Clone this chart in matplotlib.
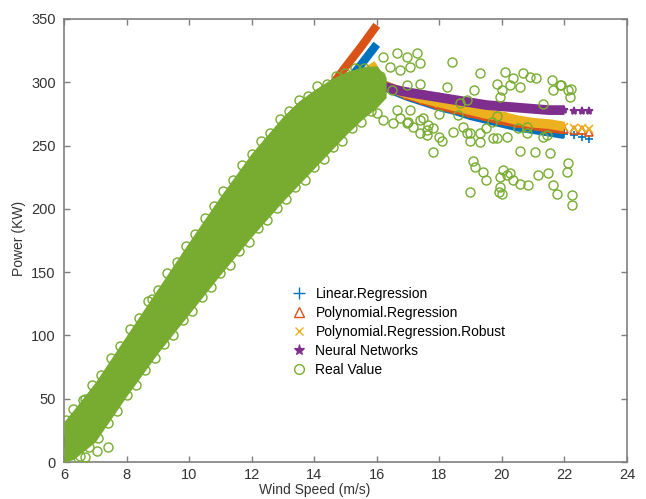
import matplotlib
matplotlib.use("Agg")
import matplotlib.pyplot as plt
from matplotlib.lines import Line2D

plt.rcParams['font.family'] = ['Liberation Sans', 'DejaVu Sans']

band_x = [6.0, 6.3, 7.0, 8.0, 9.0, 10.0, 11.0, 12.0, 13.0, 13.5, 14.0, 14.5, 15.0, 15.5, 16.0, 16.3]
band_hi = [32, 41, 63, 100, 137, 174, 210, 244, 273, 285, 294, 302, 308, 312, 313, 304]
band_lo = [0, 2, 16, 52, 86, 117, 148, 178, 206, 219, 232, 245, 258, 270, 280, 288]

# circles along the band edges
edge_hi_x = [6.05, 6.3, 6.6, 6.9, 7.2, 7.5, 7.8, 8.1, 8.4, 8.7, 9.0, 9.3, 9.6, 9.9, 10.2, 10.5,
             10.8, 11.1, 11.4, 11.7, 12.0, 12.3, 12.6, 12.9, 13.2, 13.5, 13.8, 14.1, 14.4, 14.7,
             15.0, 15.3, 15.6]
edge_hi_y = [33, 42, 49, 61, 69, 82, 92, 105, 114, 127, 136, 149, 158, 171, 180, 193,
             202, 214, 223, 235, 243, 254, 260, 271, 277, 286, 289, 297, 299, 305,
             307, 311, 311]
edge_lo_x = [6.2, 6.5, 6.8, 7.1, 7.4, 7.7, 8.0, 8.3, 8.6, 8.9, 9.2, 9.5, 9.8, 10.1, 10.4, 10.7,
             11.0, 11.3, 11.6, 11.9, 12.2, 12.5, 12.8, 13.1, 13.4, 13.7, 14.0, 14.3, 14.6, 14.9,
             15.2, 15.5, 15.8]
edge_lo_y = [1, 5, 12, 19, 31, 40, 53, 61, 73, 82, 93, 100, 112, 119, 130, 138,
             149, 156, 167, 174, 185, 191, 201, 208, 217, 223, 233, 239, 249, 254,
             264, 269, 277]

# scattered measured points
out_x = [8.8, 8.05, 6.67, 7.05, 6.67, 7.4,
         15.4, 15.5, 15.9, 16.1,
         16.0, 16.2, 16.52, 16.74, 16.96, 17.16, 17.38,
         16.2, 16.65, 16.96, 17.28, 17.38, 16.42, 16.74, 17.06,
         16.5, 16.96, 17.38, 16.65, 17.06, 17.0,
         17.48, 17.64, 17.8, 17.38, 17.6, 18.0, 17.8, 18.1,
         18.4, 19.3, 20.1, 20.35, 20.67, 20.9, 21.1, 21.6, 21.86, 22.2,
         19.1, 19.84, 20.0, 20.26, 20.58, 19.94, 18.24, 21.63, 22.18, 21.3,
         18.66, 18.88, 18.0, 22.1, 21.9,
         19.84, 19.68, 18.76, 18.88, 17.6, 18.44, 18.98, 19.3, 19.84, 20.16,
         20.58, 21.06, 21.54, 21.44, 20.5, 20.8, 20.8, 21.3,
         18.6, 18.98, 19.3, 19.5, 19.7,
         19.08, 19.14, 19.4, 19.5, 18.98, 19.9, 20.0, 20.03, 20.26, 20.35,
         20.58, 20.83, 21.15, 21.47, 21.63, 21.76, 22.1, 22.08, 22.24, 22.24,
         19.94, 19.94, 20.16]
out_y = [129, 94, 50, 9, 4, 12,
         278, 286, 300, 305,
         276, 270, 268, 272, 268, 265, 270,
         320, 323, 320, 323, 315, 312, 310, 312,
         294, 298, 299, 278, 278, 269,
         272, 266, 264, 260, 258, 257, 245, 254,
         316, 307, 308, 303, 307, 304, 303, 302, 298, 295,
         294, 299, 294, 298, 296, 288, 296, 294, 288, 283,
         284, 286, 275, 294, 298,
         273, 269, 265, 260, 262, 261, 254, 253, 256, 257,
         246, 245, 244, 258, 264, 265, 260, 257,
         274, 260, 260, 264, 256,
         238, 233, 229, 223, 213, 213, 212, 231, 228, 223,
         220, 219, 227, 228, 219, 212, 236, 229, 211, 203,
         217, 225, 227]

# model predictions, training range
fit_x = [6.0, 8.0, 10.0, 12.0, 14.0, 15.0, 15.5, 16.0]
lin_fit = [14, 77, 140, 204, 267, 298, 314, 330]
poly_fit = [11, 78, 145, 212, 279, 312, 328, 345]
rob_fit = [13, 77, 142, 207, 272, 298, 306, 314]
nn_fit = [15, 80, 146, 212, 265, 285, 292, 298]

# model predictions, test range
post_x = [16.2, 16.6, 17.0, 17.5, 18.0, 18.5, 19.0, 19.5, 20.0, 20.5, 21.0, 21.5, 22.0, 22.3, 22.55, 22.8]
lin_post = [298, 293, 289, 285, 281, 278, 274, 271, 268, 265, 263, 261, 259, 258, 257, 255]
poly_post = [298, 294, 290, 286, 282, 279, 276, 273, 270, 268, 266, 264, 263, 262, 262, 261]
rob_post = [298, 294, 291, 287, 284, 281, 278, 275, 273, 270, 268, 267, 265, 264, 264, 263]
nn_post = [297, 294, 292, 290, 288, 286, 284, 282, 281, 280, 279, 278, 278, 277, 277, 277]

labels = ['Linear.Regression', 'Polynomial.Regression', 'Polynomial.Regression.Robust',
          'Neural Networks', 'Real Value']

c_lin, c_poly, c_rob, c_nn, c_real = '#0072BD', '#D95319', '#EDB120', '#7E2F8E', '#77AC30'

fig = plt.figure(figsize=(6.46, 4.99), dpi=100)
ax = fig.add_axes([0.099, 0.074, 0.8716, 0.888])

models = [(fit_x, lin_fit, lin_post, c_lin, '+'),
          (fit_x, poly_fit, poly_post, c_poly, '^'),
          (fit_x, rob_fit, rob_post, c_rob, 'x'),
          (fit_x, nn_fit, nn_post, c_nn, '*')]
for fx, fy, py, col, mk in models:
    ax.plot(fx, fy, '-', color=col, lw=6, solid_capstyle='butt', zorder=2)
    ax.plot(post_x[:-3], py[:-3], '-', color=col, lw=7, solid_capstyle='butt', zorder=2)
    mfc = 'none' if mk == '^' else col
    ax.plot(post_x, py, mk, color=col, ms=6, mew=1.2, mfc=mfc, ls='none', zorder=2)

ax.fill_between(band_x, band_lo, band_hi, color=c_real, lw=0, zorder=3)
circ = dict(marker='o', ls='none', ms=6.5, mfc='none', mec=c_real, mew=1.0, zorder=3)
ax.plot(edge_hi_x, edge_hi_y, **circ)
ax.plot(edge_lo_x, edge_lo_y, **circ)
ax.plot(out_x, out_y, **circ)

ax.set_xlim(6, 24)
ax.set_ylim(0, 350)
ax.set_xticks(range(6, 25, 2))
ax.set_yticks(range(0, 351, 50))
for s in ax.spines.values():
    s.set_color('#7f7f7f')
    s.set_linewidth(1.2)
ax.tick_params(direction='in', length=4, width=1, colors='#7f7f7f', labelcolor='#333333',
               labelsize=10.5, top=True, right=True, pad=6)
ax.tick_params(axis='x', pad=4)

ax.set_xlabel('Wind Speed (m/s)', fontsize=10, color='#333333')
ax.xaxis.set_label_coords(0.446, -0.047)
ax.set_ylabel('Power (KW)', fontsize=10, color='#333333')
ax.yaxis.set_label_coords(-0.068, 0.505)

handles = [Line2D([], [], ls='none', marker='+', color=c_lin, ms=8, mew=1),
           Line2D([], [], ls='none', marker='^', color=c_poly, mfc='none', ms=7, mew=1),
           Line2D([], [], ls='none', marker='x', color=c_rob, ms=6, mew=1),
           Line2D([], [], ls='none', marker='*', color=c_nn, ms=8, mew=0.8),
           Line2D([], [], ls='none', marker='o', color=c_real, mfc='none', ms=7, mew=1)]
ax.legend(handles, labels, loc='upper left', bbox_to_anchor=(0.385, 0.418), frameon=False,
          fontsize=10, handlelength=1.2, handletextpad=0.6, labelspacing=0.36, borderpad=0.2)

fig.savefig('out.png', dpi=100)
